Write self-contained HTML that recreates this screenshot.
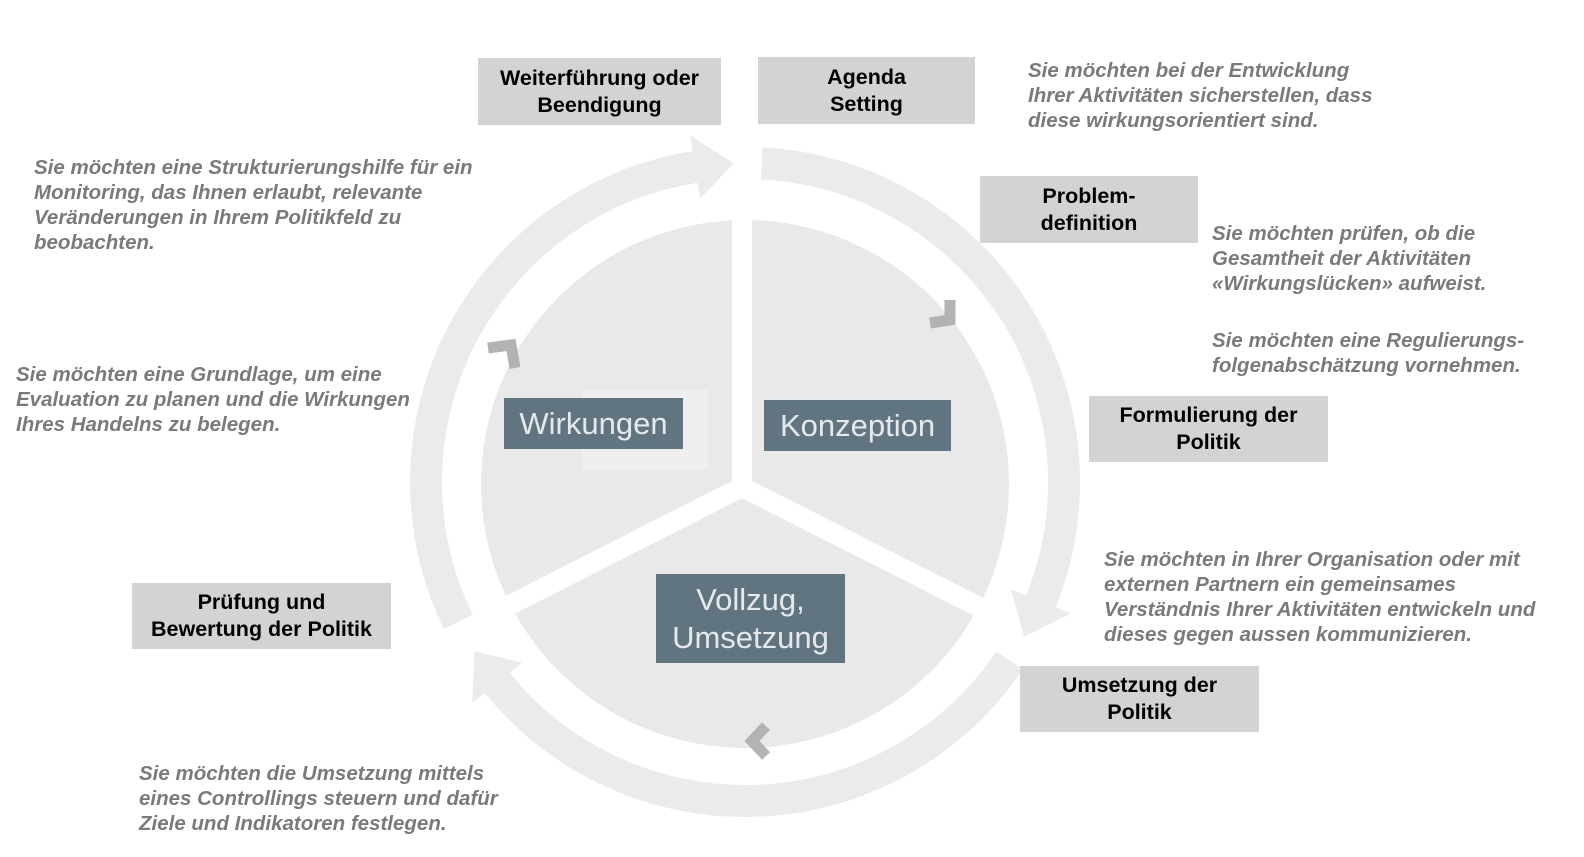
<!DOCTYPE html>
<html><head><meta charset="utf-8"><style>
body{margin:0;width:1584px;height:857px;background:#fff;position:relative;overflow:hidden;font-family:"Liberation Sans",Arial,sans-serif}
.b{position:absolute;background:#d3d3d3;color:#000;font-weight:bold;font-size:21.5px;line-height:27px;text-align:center;display:flex;align-items:center;justify-content:center;white-space:nowrap}
.d{position:absolute;background:#607580;color:#e6e9eb;font-size:31px;line-height:38px;text-align:center;display:flex;align-items:center;justify-content:center}
.t{position:absolute;color:#7a7a7a;font-weight:bold;font-style:italic;font-size:20.5px;line-height:25px;white-space:nowrap}
</style></head><body>
<svg width="1584" height="857" style="position:absolute;left:0;top:0">
<circle cx="745" cy="484" r="264" fill="#e9e9e9"/>
<rect x="582" y="390" width="126" height="80" fill="#efefef"/>
<g stroke="#ebebeb" stroke-width="32" fill="none">
<path d="M761.7 163.4 A319 319 0 0 1 1040.8 601.5"/>
<path d="M1009.5 660.4 A319 319 0 0 1 497.1 682.7"/>
<path d="M458.3 621.8 A319 319 0 0 1 695.1 166.9"/>
</g>
<g fill="#ebebeb">
<polygon points="710,197.2 702.2,133.6 745,163" transform="rotate(-2 745 482)"/>
<polygon points="710,197.2 702.2,133.6 745,163" transform="rotate(119 745 482)"/>
<polygon points="710,197.2 702.2,133.6 745,163" transform="rotate(238 745 482)"/>
</g>
<g stroke="#fff" stroke-width="20" stroke-linecap="butt">
<line x1="742" y1="487" x2="742" y2="215"/>
<line x1="742" y1="487" x2="985" y2="610"/>
<line x1="742" y1="487" x2="500" y2="610"/>
</g>
<g fill="none" stroke="#b3b3b3" stroke-width="11" stroke-linejoin="miter">
<polyline points="930,323 950,320 950,300"/>
<polyline points="488,348 511,345 515,368"/>
<polyline points="766,726 752,741 766,756"/>
</g>
</svg>
<div class="b" style="left:478px;top:58px;width:243px;height:67px">Weiterführung oder<br>Beendigung</div>
<div class="b" style="left:758px;top:57px;width:217px;height:67px">Agenda<br>Setting</div>
<div class="b" style="left:980px;top:176px;width:218px;height:67px">Problem-<br>definition</div>
<div class="b" style="left:1089px;top:396px;width:239px;height:66px">Formulierung der<br>Politik</div>
<div class="b" style="left:1020px;top:666px;width:239px;height:66px">Umsetzung der<br>Politik</div>
<div class="b" style="left:132px;top:583px;width:259px;height:66px">Prüfung und<br>Bewertung der Politik</div>
<div class="d" style="left:504px;top:398px;width:179px;height:51px">Wirkungen</div>
<div class="d" style="left:764px;top:400px;width:187px;height:51px">Konzeption</div>
<div class="d" style="left:656px;top:574px;width:189px;height:89px">Vollzug,<br>Umsetzung</div>
<div class="t" style="left:1028px;top:58px">Sie möchten bei der Entwicklung<br>Ihrer Aktivitäten sicherstellen, dass<br>diese wirkungsorientiert sind.</div>
<div class="t" style="left:34px;top:155px">Sie möchten eine Strukturierungshilfe für ein<br>Monitoring, das Ihnen erlaubt, relevante<br>Veränderungen in Ihrem Politikfeld zu<br>beobachten.</div>
<div class="t" style="left:1212px;top:221px">Sie möchten prüfen, ob die<br>Gesamtheit der Aktivitäten<br>«Wirkungslücken» aufweist.</div>
<div class="t" style="left:1212px;top:328px">Sie möchten eine Regulierungs-<br>folgenabschätzung vornehmen.</div>
<div class="t" style="left:16px;top:362px">Sie möchten eine Grundlage, um eine<br>Evaluation zu planen und die Wirkungen<br>Ihres Handelns zu belegen.</div>
<div class="t" style="left:1104px;top:547px">Sie möchten in Ihrer Organisation oder mit<br>externen Partnern ein gemeinsames<br>Verständnis Ihrer Aktivitäten entwickeln und<br>dieses gegen aussen kommunizieren.</div>
<div class="t" style="left:139px;top:761px">Sie möchten die Umsetzung mittels<br>eines Controllings steuern und dafür<br>Ziele und Indikatoren festlegen.</div>
</body></html>
